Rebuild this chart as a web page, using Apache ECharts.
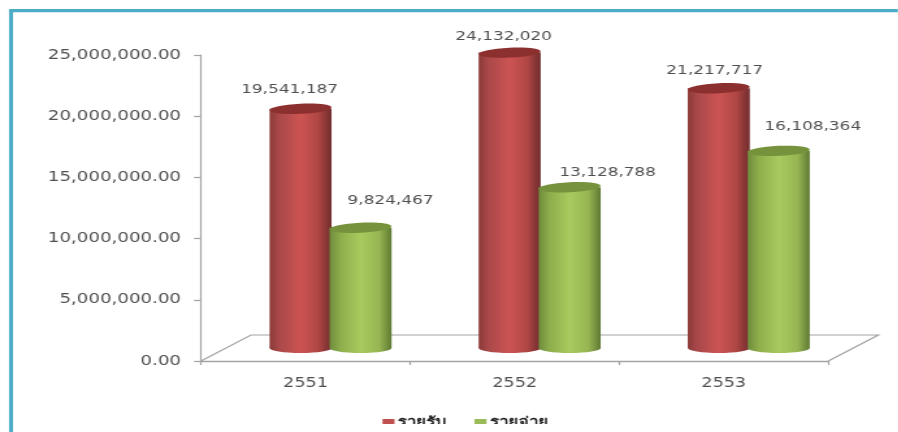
<!DOCTYPE html>
<html><head><meta charset="utf-8">
<style>html,body{margin:0;padding:0;background:#fff;overflow:hidden}
#c{position:absolute;left:0;top:0;height:432px;transform-origin:0 0}</style>
<script src="https://cdn.jsdelivr.net/npm/echarts@6/dist/echarts.min.js"></script>
</head><body><div id="c"></div>
<script>
const categories = ['2551','2552','2553'];
const incomeValues = [19541187,24132020,21217717];
const expenseValues = [9824467,13128788,16108364];
const yTicks = {min:0,max:25000000,interval:5000000};
const incomeName = 'รายรับ', expenseName = 'รายจ่าย';
const incomeNudge = [[-11,-19],[-6,-16],[-4,-18]];
const expenseNudge = [[30,-27],[38,-15],[34,-24]];

const S = 1.3;                 // reference is horizontally stretched
const el = document.getElementById('c');
el.style.width = (898/S)+'px';
el.style.transform = 'scaleX('+S+')';
const chart = echarts.init(el);
const px = v => v/S;
const font = 'DejaVu Sans';
const textColor = '#505050';
const axisColor = '#a3a3a3';

function grad(stops){
  return new echarts.graphic.LinearGradient(0,0,1,0,stops.map(s=>({offset:s[0],color:s[1]})));
}
const redBody = [[0,'#8a3a38'],[0.15,'#a9484a'],[0.5,'#cc5452'],[0.78,'#b04745'],[1,'#702c2c']];
const greenBody = [[0,'#6f8c3c'],[0.18,'#8fae4c'],[0.5,'#a8ca5e'],[0.8,'#98b653'],[1,'#5f7a32']];

function cylinder(side, stops, topColor, nudges){
  return function(params, api){
    const c = api.coord([api.value(0), api.value(1)]);
    const base = api.coord([api.value(0), 0]);
    const w = px(62), ry = 5, dx = px(25), dy = -13;
    const cx = c[0] + dx + side*px(30);
    const top = c[1] + dy, bot = base[1] + dy;
    const n = nudges[params.dataIndex];
    const fill = grad(stops);
    return {type:'group', children:[
      {type:'rect', shape:{x:cx-w/2,y:top,width:w,height:bot-top}, style:{fill}},
      {type:'ellipse', shape:{cx,cy:bot,rx:w/2,ry}, style:{fill}},
      {type:'ellipse', shape:{cx:0,cy:0,rx:w/2,ry}, x:cx, y:top, rotation:0.06, style:{fill:topColor}},
      {type:'text', x:cx+px(n[0]), y:top+n[1], style:{
        text:echarts.format.addCommas(api.value(1)), align:'center', verticalAlign:'middle',
        fill:textColor, font:'13px "'+font+'"'}}
    ]};
  };
}
function floor(params, api){
  const cs = params.coordSys;
  const x0 = cs.x, x1 = cs.x+cs.width, y = cs.y+cs.height, dx = px(50), dy = -26;
  return {type:'polyline', shape:{points:[[x0,y],[x0+dx,y+dy],[x1+dx,y+dy],[x1,y]]},
    style:{fill:'none',stroke:axisColor,lineWidth:1.2}, silent:true};
}
chart.setOption({
  animation:false,
  backgroundColor:'#fff',
  grid:{left:px(201),right:px(898-828),top:55,height:306,containLabel:false},
  legend:{
    data:[{name:incomeName,icon:'rect',itemStyle:{color:'#c0504d'}},{name:expenseName,icon:'rect',itemStyle:{color:'#9bbb59'}}],
    left:px(376),top:411,itemWidth:px(12),itemHeight:7,itemGap:px(28),
    textStyle:{fontFamily:'"Noto Sans","DejaVu Sans",sans-serif',fontWeight:'bold',fontSize:13,color:'#222',padding:[0,0,0,-2]}
  },
  xAxis:{type:'category',data:categories,
    axisLine:{lineStyle:{color:axisColor,width:1.4}},
    axisTick:{show:true,length:4,lineStyle:{color:axisColor,width:1.2}},
    axisLabel:{color:textColor,fontFamily:font,fontSize:13.5,margin:15},
    splitLine:{show:false}},
  yAxis:{type:'value',min:yTicks.min,max:yTicks.max,interval:yTicks.interval,
    axisLine:{show:true,lineStyle:{color:axisColor,width:1.2}},
    axisTick:{show:true,length:px(7),lineStyle:{color:axisColor,width:1.2}},
    axisLabel:{color:textColor,fontFamily:font,fontSize:14,margin:px(20),padding:[5,0,0,0],
      formatter:v=>echarts.format.addCommas(v.toFixed(2))},
    splitLine:{show:false}},
  graphic:[
    {type:'rect',shape:{x:px(9),y:9,width:px(889),height:3.2},style:{fill:'#4bacc6'},z:50},
    {type:'rect',shape:{x:px(9),y:9,width:px(4),height:423},style:{fill:'#4bacc6'},z:50},
    {type:'rect',shape:{x:px(14),y:424,width:px(884),height:8},style:{fill:'#fff'},z:100}
  ],
  series:[
    {type:'custom',name:'floor',renderItem:floor,data:[[0,0]],silent:true,z:1,encode:{x:0,y:1}},
    {type:'custom',name:incomeName,renderItem:cylinder(-1,redBody,'#8c302f',incomeNudge),z:2,
      data:incomeValues.map((v,i)=>[i,v]),encode:{x:0,y:1}},
    {type:'custom',name:expenseName,renderItem:cylinder(1,greenBody,'#76923c',expenseNudge),z:3,
      data:expenseValues.map((v,i)=>[i,v]),encode:{x:0,y:1}}
  ]
});
</script></body></html>
